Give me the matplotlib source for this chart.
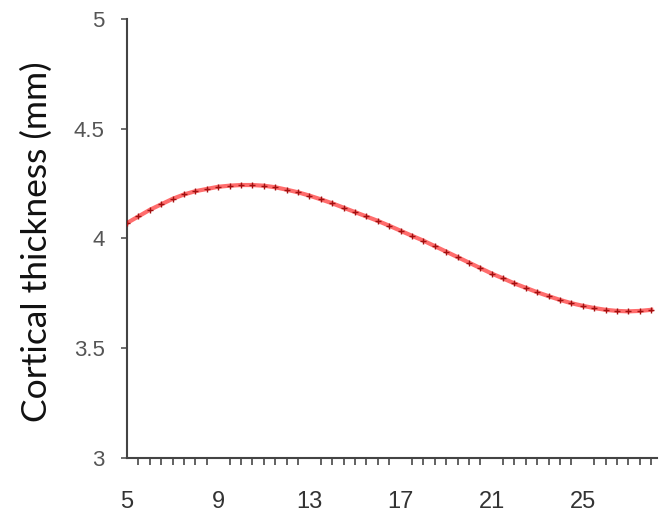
import numpy as np
import matplotlib.pyplot as plt

# age (years) and mean cortical thickness (mm)
age = [5.0, 5.5, 6.0, 6.5, 7.0, 7.5, 8.0, 8.5, 9.0, 9.5,
       10.0, 10.5, 11.0, 11.5, 12.0, 12.5, 13.0, 13.5, 14.0, 14.5,
       15.0, 15.5, 16.0, 16.5, 17.0, 17.5, 18.0, 18.5, 19.0, 19.5,
       20.0, 20.5, 21.0, 21.5, 22.0, 22.5, 23.0, 23.5, 24.0, 24.5,
       25.0, 25.5, 26.0, 26.5, 27.0, 27.5, 28.0]
thickness = [4.07, 4.10, 4.13, 4.155, 4.18, 4.20, 4.215, 4.225, 4.235, 4.24,
             4.243, 4.243, 4.24, 4.233, 4.222, 4.21, 4.195, 4.178, 4.16, 4.14,
             4.12, 4.10, 4.08, 4.058, 4.035, 4.012, 3.99, 3.965, 3.94, 3.915,
             3.89, 3.865, 3.84, 3.818, 3.795, 3.775, 3.755, 3.737, 3.72, 3.705,
             3.693, 3.683, 3.675, 3.67, 3.668, 3.67, 3.675]

xticks = [5, 9, 13, 17, 21, 25]
yticks = [3, 3.5, 4, 4.5, 5]
ytick_labels = ["3", "3.5", "4", "4.5", "5"]

fig = plt.figure(figsize=(6.62, 5.2), dpi=100)
ax = fig.add_axes([0.1918, 0.119, 0.8006, 0.845])

ax.plot(age, thickness, color="#ff4848", lw=3.0, alpha=0.8, zorder=2)
ax.plot(age, thickness, ls="none", marker="+", ms=4, mew=1.0,
        color="#a01010", zorder=3)

ax.set_xlim(5, 28.25)
ax.set_ylim(3, 5)
ax.set_xticks(xticks)
ax.set_xticks(np.arange(5, 28.3, 0.5), minor=True)
ax.set_yticks(yticks)
ax.set_yticklabels(ytick_labels)

for side in ["top", "right"]:
    ax.spines[side].set_visible(False)
for side in ["left", "bottom"]:
    ax.spines[side].set_color("#444444")
    ax.spines[side].set_linewidth(1.5)

ax.tick_params(axis="x", which="major", length=0, pad=24,
               labelsize=17, labelcolor="#333333")
ax.tick_params(axis="x", which="minor", length=5, width=1.3,
               color="#555555", direction="out")
ax.tick_params(axis="y", length=4, width=1.2, color="#555555",
               labelsize=16, labelcolor="#555555", pad=12)
for lab in ax.get_xticklabels() + ax.get_yticklabels():
    lab.set_family("Liberation Sans")

ax.set_ylabel("Cortical thickness (mm)", family="Lato", fontsize=25.5,
              color="#111111", va="center")
ax.yaxis.set_label_coords(-0.17, 0.492)

fig.savefig("out.png", dpi=100)
